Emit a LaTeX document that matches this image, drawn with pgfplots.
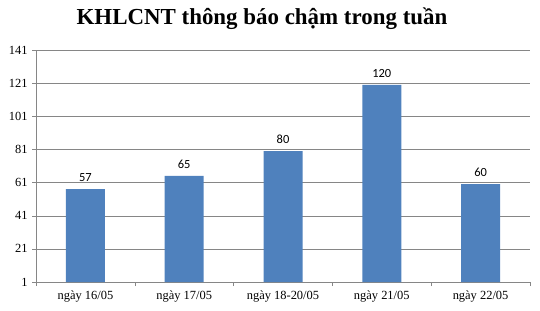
\documentclass[border=0pt]{standalone}
\usepackage{pgfplots}
\pgfplotsset{compat=1.18}
\usepackage{fontspec}
\setmainfont{Liberation Serif}
\newfontfamily\labelfont{Carlito}
\definecolor{barblue}{HTML}{4F81BD}
\definecolor{gridgray}{HTML}{868686}
\begin{document}
\begin{tikzpicture}
\begin{axis}[
  at={(0,0)}, anchor=south west,
  scale only axis,
  width=494bp, height=232bp,
  xmin=-0.5, xmax=4.5,
  ymin=1, ymax=141,
  ytick={1,21,41,61,81,101,121,141},
  xtick={0,1,2,3,4},
  xticklabels={ngày 16/05,ngày 17/05,ngày 18-20/05,ngày 21/05,ngày 22/05},
  minor xtick={-0.5,0.5,1.5,2.5,3.5,4.5},
  major x tick style={draw=none},
  minor x tick style={gridgray, thin},
  minor tick length=4bp,
  major tick length=4bp,
  y tick style={gridgray, thin},
  tick align=outside,
  xtick pos=bottom, ytick pos=left,
  axis x line*=bottom, axis y line*=left,
  axis line style={gridgray, thin},
  ymajorgrids,
  grid style={gridgray, thin},
  tick label style={font=\fontsize{12.5}{14}\selectfont},
  /pgf/number format/assume math mode=true,
  x tick label style={yshift=-1bp},
  y tick label style={xshift=-1bp},
  ybar, bar width=39bp,
  nodes near coords,
  every node near coord/.append style={font=\labelfont\fontsize{12.5}{14}\selectfont, black, yshift=4bp},
  clip=false,
]
\addplot[fill=barblue, draw=none] coordinates {(0,57) (1,65) (2,80) (3,120) (4,60)};
\end{axis}
\node[font=\bfseries\fontsize{23}{26}\selectfont] at (226bp,263bp) {KHLCNT thông báo chậm trong tuần};
\useasboundingbox (-36bp,-29bp) rectangle (504bp,282bp);
\end{tikzpicture}
\end{document}
